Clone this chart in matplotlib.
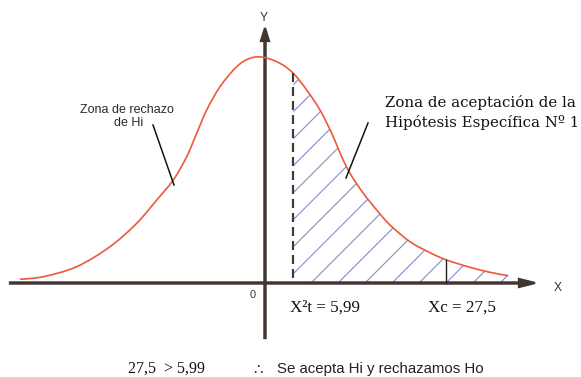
import numpy as np
import matplotlib
matplotlib.use("Agg")
import matplotlib.pyplot as plt
from matplotlib.path import Path
from matplotlib.patches import PathPatch

# diagram units = pixels of the 581x377 picture (y grows downwards)
curve_x = [20, 43.3, 76.7, 110, 136.7, 156.7, 173.3, 186.7, 196.7, 206.7, 220,
           236.7, 250, 263.3, 280, 293.3, 306.7, 320, 331.7, 341.7, 350,
           363.3, 376.7, 390, 410, 430, 446.7, 470, 490, 508.3]
curve_y = [279.3, 276.7, 266.7, 246.7, 223.3, 200, 180, 156.7, 133.3, 110, 86.7,
           66.7, 58.3, 57.3, 63.3, 73.3, 90, 110, 133.3, 156.7, 173.3,
           193.3, 210, 225, 241.7, 252.7, 260, 267.3, 272.3, 275.7]

axis_y = 283
axis_x = 265
x_t = 293.3      # X2 tabla = 5,99
x_c = 445.7      # X calculado = 27,5
y_c = 260.3

DPI = 162
W, H = 581, 377


def pt(px):
    return px * 72 / DPI


def smooth_path(xs, ys):
    # catmull-rom through the read points, drawn as cubic bezier segments
    p = np.column_stack([xs, ys]).astype(float)
    verts = [p[0]]
    codes = [Path.MOVETO]
    for i in range(len(p) - 1):
        p0 = p[i - 1] if i > 0 else p[i]
        p1, p2 = p[i], p[i + 1]
        p3 = p[i + 2] if i + 2 < len(p) else p[i + 1]
        verts += [p1 + (p2 - p0) / 6, p2 - (p3 - p1) / 6, p2]
        codes += [Path.CURVE4] * 3
    return verts, codes


plt.rcParams['hatch.linewidth'] = pt(1.1)

fig = plt.figure(figsize=(W / DPI, H / DPI), dpi=DPI)
ax = fig.add_axes([0, 0, 1, 1])
ax.set_xlim(0, W)
ax.set_ylim(H, 0)
ax.axis('off')

axis_col = '#45352f'
curve_col = '#ee5a3c'
hatch_col = '#8487c6'

# hatched acceptance zone
i0 = curve_x.index(x_t)
v, c = smooth_path(curve_x[i0:], curve_y[i0:])
v = [(x_t, axis_y)] + v + [(curve_x[-1], axis_y), (x_t, axis_y)]
c = [Path.MOVETO, Path.LINETO] + c[1:] + [Path.LINETO, Path.CLOSEPOLY]
ax.add_patch(PathPatch(Path(v, c), facecolor='none', edgecolor=hatch_col,
                       linewidth=0, hatch='//', zorder=1))

# axes with arrows
ax.arrow(10, axis_y, 525, 0, width=1.2, head_width=8, head_length=16,
         length_includes_head=True, color=axis_col, zorder=2)
ax.arrow(axis_x, 338, 0, -310, width=1.2, head_width=8, head_length=13,
         length_includes_head=True, color=axis_col, zorder=2)

# curve
v, c = smooth_path(curve_x, curve_y)
ax.add_patch(PathPatch(Path(v, c), facecolor='none', edgecolor=curve_col,
                       lw=pt(1.7), zorder=3))

# critical lines
ax.plot([x_t, x_t], [curve_y[i0], axis_y], color='#3c3c3c', lw=pt(2.2),
        dashes=(pt(9) / pt(2.2), pt(5) / pt(2.2)), zorder=4)
ax.plot([x_c, x_c], [y_c, axis_y], color='#222222', lw=pt(1.4), zorder=4)

# leader lines
ax.plot([153, 174], [125, 185], color='#111111', lw=pt(1.5), zorder=4)
ax.plot([368, 346], [123, 178], color='#111111', lw=pt(1.5), zorder=4)

sans = 'Liberation Sans'
serif = 'Liberation Serif'

ax.text(264, 18, 'Y', fontsize=pt(12), family=sans, ha='center', va='center', color='#333333')
ax.text(558, 288, 'X', fontsize=pt(12), family=sans, ha='center', va='center', color='#333333')
ax.text(253, 295, '0', fontsize=pt(11), family=sans, ha='center', va='center', color='#333333')

ax.text(127, 110, 'Zona de rechazo', fontsize=pt(12.5), family=sans, ha='center', va='center', color='#2a2a2a')
ax.text(129, 123, 'de Hi', fontsize=pt(12.5), family=sans, ha='center', va='center', color='#2a2a2a')

ax.text(385, 103, 'Zona de aceptación de la', fontsize=pt(15), family='DejaVu Serif',
        ha='left', va='center', color='#111111')
ax.text(385, 123, 'Hipótesis Específica Nº 1', fontsize=pt(15), family='DejaVu Serif',
        ha='left', va='center', color='#111111')

ax.text(290, 308, 'X²t = 5,99', fontsize=pt(17), family=serif, ha='left', va='center', color='#111111')
ax.text(428, 308, 'Xc = 27,5', fontsize=pt(17), family=serif, ha='left', va='center', color='#111111')

ax.text(128, 369, '27,5  > 5,99', fontsize=pt(16), family=serif, ha='left', va='center', color='#111111')
ax.text(253, 369, '∴', fontsize=pt(15), family='DejaVu Sans', ha='left', va='center', color='#222222')
ax.text(277, 369, 'Se acepta Hi y rechazamos Ho', fontsize=pt(15), family=sans,
        ha='left', va='center', color='#222222')

fig.savefig('out.png', dpi=DPI)
